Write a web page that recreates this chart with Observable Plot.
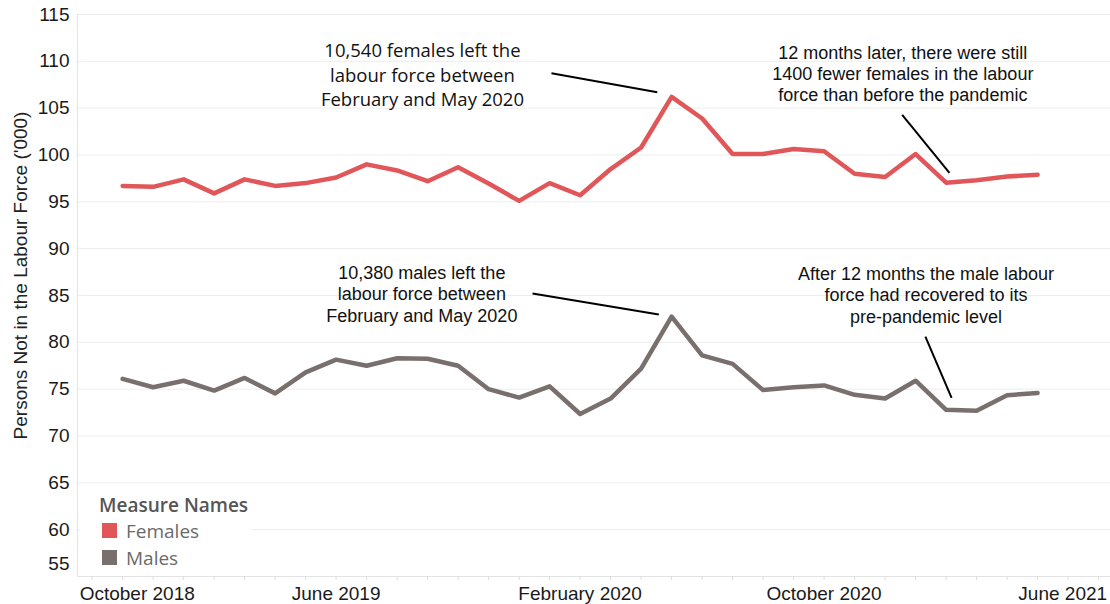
<!DOCTYPE html>
<html>
<head>
<meta charset="utf-8">
<script src="https://cdn.jsdelivr.net/npm/d3@7"></script>
<script src="https://cdn.jsdelivr.net/npm/@observablehq/plot@0.6"></script>
<style>
  body { margin: 0; background: #fff; }
  #wrap { position: relative; width: 1110px; height: 604px; overflow: hidden; background: #fff; }
  #legend { position: absolute; left: 80px; top: 490px; width: 172px; height: 82px; background: #fff; font-family: "Open Sans", sans-serif; }
  #legend .title { position: absolute; left: 19px; top: 0; height: 30px; line-height: 30px; font-size: 19px; font-weight: 600; color: #555; white-space: nowrap; }
  #legend .item { position: absolute; left: 22px; height: 27px; line-height: 27px; font-size: 19px; color: #6a6a6a; white-space: nowrap; }
  #legend .sw { display: inline-block; width: 15px; height: 15px; vertical-align: middle; margin-right: 9px; position: relative; top: -2px; }
</style>
</head>
<body>
<div id="wrap"></div>
<script>
// ---- data ----
const months = ["2018-11","2018-12","2019-01","2019-02","2019-03","2019-04","2019-05","2019-06","2019-07","2019-08","2019-09","2019-10","2019-11","2019-12","2020-01","2020-02","2020-03","2020-04","2020-05","2020-06","2020-07","2020-08","2020-09","2020-10","2020-11","2020-12","2021-01","2021-02","2021-03","2021-04","2021-05"];
const females = [96.7, 96.6, 97.4, 95.9, 97.4, 96.7, 97.0, 97.6, 99.0, 98.35, 97.2, 98.7, 96.95, 95.1, 97.0, 95.7, 98.5, 100.8, 106.2, 103.9, 100.1, 100.1, 100.65, 100.4, 98.0, 97.65, 100.1, 97.05, 97.3, 97.7, 97.9];
const males = [76.1, 75.2, 75.9, 74.85, 76.2, 74.55, 76.8, 78.15, 77.5, 78.3, 78.25, 77.5, 75.0, 74.1, 75.3, 72.35, 74.0, 77.2, 82.75, 78.6, 77.7, 74.9, 75.2, 75.4, 74.4, 74.0, 75.9, 72.8, 72.7, 74.35, 74.6];
const seriesNames = ["Females", "Males"];
const seriesColors = ["#E15759", "#79706E"];
const yTicks = [55, 60, 65, 70, 75, 80, 85, 90, 95, 100, 105, 110, 115];
const xLabelMonths = ["2018-10", "2019-06", "2020-02", "2020-10", "2021-06"];
const axisStartMonth = "2018-10";
const axisEndMonth = "2021-06";
const yTitle = "Persons Not in the Labour Force ('000)";
const legendTitle = "Measure Names";

const annotationTexts = [
  "10,540 females left the\nlabour force between\nFebruary and May 2020",
  "12 months later, there were still\n1400 fewer females in the labour\nforce than before the pandemic",
  "10,380 males left the\nlabour force between\nFebruary and May 2020",
  "After 12 months the male labour\nforce had recovered to its\npre-pandemic level"
];

// ---- helpers ----
const parseMonth = d3.utcParse("%Y-%m");
const fmtMonth = d3.utcFormat("%B %Y");
const base = parseMonth(axisStartMonth);
const idx = s => d3.utcMonth.count(base, parseMonth(s));
const labelOf = i => fmtMonth(d3.utcMonth.offset(base, i));

const table = [];
months.forEach((m, i) => {
  table.push({series: seriesNames[0], t: idx(m), v: females[i]});
  table.push({series: seriesNames[1], t: idx(m), v: males[i]});
});

const endIdx = idx(axisEndMonth);
const xDomain = [-0.48, endIdx + 1.39];
const allMonthTicks = d3.range(0, endIdx + 2);
const labelIdx = xLabelMonths.map(idx);

// annotation layout (month index / value anchors)
const annotations = [
  {text: annotationTexts[0], t: 10.83, v: 108.7, font: "Open Sans"},
  {text: annotationTexts[1], t: 26.58, v: 108.73, font: "Liberation Sans"},
  {text: annotationTexts[2], t: 10.81, v: 85.21, font: "Liberation Sans"},
  {text: annotationTexts[3], t: 27.34, v: 85.1, font: "Liberation Sans"}
];
const connectors = [
  {t1: 15.06, v1: 108.73, t2: 18.53, v2: 106.7},
  {t1: 26.56, v1: 104.29, t2: 28.11, v2: 98.1},
  {t1: 14.44, v1: 85.21, t2: 18.58, v2: 82.97},
  {t1: 27.32, v1: 80.62, t2: 28.18, v2: 74.08}
];

const FONT = "'Liberation Sans', Arial, sans-serif";

const chart = Plot.plot({
  width: 1110,
  height: 604,
  marginLeft: 77,
  marginRight: 0,
  marginTop: 14,
  marginBottom: 28,
  style: {fontFamily: FONT, fontSize: "19px", color: "#1a1a1a", background: "#fff", overflow: "hidden"},
  x: {type: "linear", domain: xDomain, axis: null},
  y: {domain: [55, 115], axis: null},
  color: {domain: seriesNames, range: seriesColors},
  marks: [
    Plot.gridY(yTicks, {stroke: "#ededed", strokeOpacity: 1, strokeWidth: 1}),
    Plot.ruleX([xDomain[0]], {stroke: "#e3e3e3", strokeWidth: 1}),
    Plot.ruleY([55], {stroke: "#e3e3e3", strokeWidth: 1}),
    Plot.axisX(allMonthTicks, {tickSize: 4, tickFormat: () => "", stroke: "#dcdcdc", strokeOpacity: 1}),
    // y tick labels
    Plot.axisY(yTicks.slice(1), {tickSize: 0, tickPadding: 8, fontSize: 19, fill: "#1a1a1a"}),
    Plot.axisY(yTicks.slice(0, 1), {tickSize: 0, tickPadding: 8, fontSize: 19, fill: "#1a1a1a", dy: -12.7}),
    // x tick labels
    Plot.text(labelIdx.slice(0, 1), {x: d => d, frameAnchor: "bottom", dy: 17, dx: -12.5, lineAnchor: "middle", textAnchor: "start", text: labelOf, fontSize: 19, fill: "#1a1a1a"}),
    Plot.text(labelIdx.slice(1, 4), {x: d => d, frameAnchor: "bottom", dy: 17, lineAnchor: "middle", textAnchor: "middle", text: labelOf, fontSize: 19, fill: "#1a1a1a"}),
    Plot.text(labelIdx.slice(4), {x: d => d, frameAnchor: "bottom", dy: 17, dx: 39, lineAnchor: "middle", textAnchor: "end", text: labelOf, fontSize: 19, fill: "#1a1a1a"}),
    // y title
    Plot.text([yTitle], {frameAnchor: "left", rotate: -90, dx: -57, dy: -20, text: d => d, fontSize: 19, fill: "#222", lineAnchor: "middle", textAnchor: "middle"}),
    // lines
    Plot.line(table, {x: "t", y: "v", z: "series", stroke: "series", strokeWidth: 4.5, strokeLinejoin: "round", strokeLinecap: "round"}),
    // connectors
    Plot.link(connectors, {x1: "t1", y1: "v1", x2: "t2", y2: "v2", stroke: "#000", strokeWidth: 2}),
    // annotations
    Plot.text(annotations.filter(a => a.font === "Open Sans"), {x: "t", y: "v", text: "text", fontFamily: "'Open Sans', sans-serif", fontSize: 18.5, lineHeight: 1.35, fill: "#111", lineAnchor: "middle"}),
    Plot.text(annotations.filter(a => a.font !== "Open Sans"), {x: "t", y: "v", text: "text", fontFamily: FONT, fontSize: 18, lineHeight: 1.19, fill: "#111", lineAnchor: "middle"})
  ]
});

const wrap = document.getElementById("wrap");
wrap.appendChild(chart);

// legend
const legend = document.createElement("div");
legend.id = "legend";
const title = document.createElement("div");
title.className = "title";
title.textContent = legendTitle;
legend.appendChild(title);
seriesNames.forEach((name, i) => {
  const item = document.createElement("div");
  item.className = "item";
  item.style.top = (28 + i * 27) + "px";
  const sw = document.createElement("span");
  sw.className = "sw";
  sw.style.background = seriesColors[i];
  item.appendChild(sw);
  item.appendChild(document.createTextNode(name));
  legend.appendChild(item);
});
wrap.appendChild(legend);
</script>
</body>
</html>
